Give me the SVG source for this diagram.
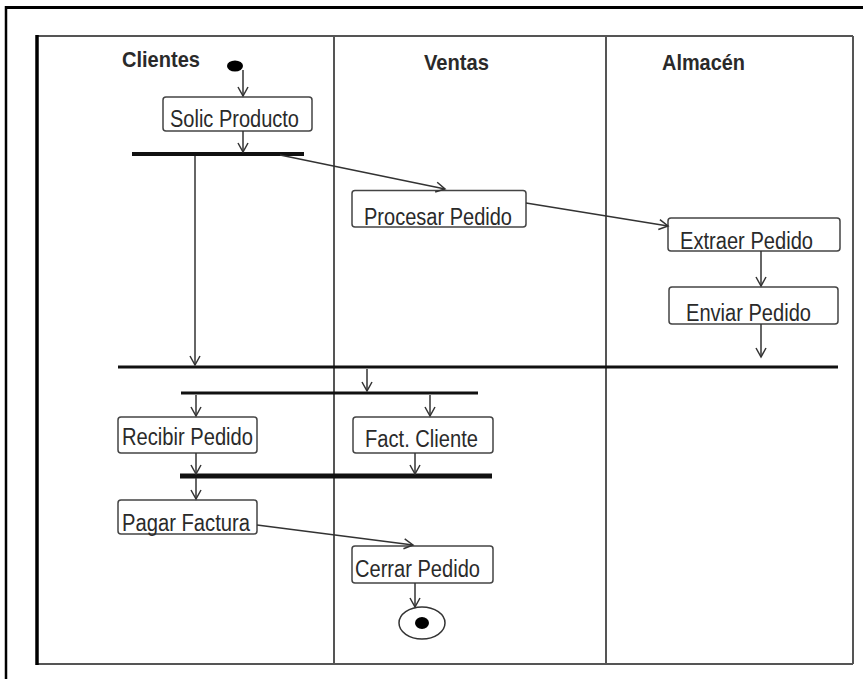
<svg xmlns="http://www.w3.org/2000/svg" width="863" height="679" viewBox="0 0 863 679">
<defs>
<marker id="arr" markerUnits="userSpaceOnUse" orient="auto" refX="10" refY="6" markerWidth="12" markerHeight="12" viewBox="0 0 12 12">
<path d="M1,1 L10,6 L1,11" fill="none" stroke="#333" stroke-width="1.5"/>
</marker>
</defs>
<style>
.lane{stroke:#555;stroke-width:2;fill:none}
.hdr{font-family:"Liberation Sans",Arial,sans-serif;font-weight:bold;font-size:22px;fill:#2a2a2a}
.act rect{fill:#fff;stroke:#444;stroke-width:1.5}
.act text{font-family:"Liberation Sans",Arial,sans-serif;font-size:23px;fill:#2a2a2a}
.bar{stroke:#111;fill:none}
.con line{stroke:#333;stroke-width:1.5;fill:none;marker-end:url(#arr)}
</style>
<rect width="863" height="679" fill="#fff"/>
<line x1="6" y1="7.5" x2="863" y2="7.5" stroke="#000" stroke-width="3"/>
<line x1="6" y1="6" x2="6" y2="679" stroke="#000" stroke-width="2.5"/>
<g id="lanes">
<line class="lane" x1="37" y1="36" x2="853" y2="36"/>
<line class="lane" x1="37" y1="664" x2="853" y2="664"/>
<line x1="37" y1="35" x2="37" y2="665" stroke="#000" stroke-width="3.5"/>
<line class="lane" x1="334" y1="36" x2="334" y2="664"/>
<line class="lane" x1="606" y1="36" x2="606" y2="664"/>
<line class="lane" x1="853" y1="36" x2="853" y2="664"/>
<text class="hdr" x="122" y="67" textLength="78" lengthAdjust="spacingAndGlyphs">Clientes</text>
<text class="hdr" x="424" y="70" textLength="65" lengthAdjust="spacingAndGlyphs">Ventas</text>
<text class="hdr" x="662" y="70" textLength="83" lengthAdjust="spacingAndGlyphs">Almacén</text>
</g>
<g id="start"><ellipse cx="235" cy="66" rx="8" ry="5.5" fill="#000"/></g>
<g id="solic" class="act"><rect x="163" y="97" width="149" height="34" rx="3"/><text x="170" y="127" textLength="129" lengthAdjust="spacingAndGlyphs">Solic Producto</text></g>
<g id="procesar" class="act"><rect x="352" y="190.5" width="174" height="36.5" rx="3"/><text x="364" y="225" textLength="148" lengthAdjust="spacingAndGlyphs">Procesar Pedido</text></g>
<g id="extraer" class="act"><rect x="668" y="218" width="172" height="33" rx="3"/><text x="680" y="248.5" textLength="133" lengthAdjust="spacingAndGlyphs">Extraer Pedido</text></g>
<g id="enviar" class="act"><rect x="669" y="287" width="169" height="37" rx="3"/><text x="686" y="320.5" textLength="125" lengthAdjust="spacingAndGlyphs">Enviar Pedido</text></g>
<g id="recibir" class="act"><rect x="118" y="417" width="139" height="36" rx="3"/><text x="122" y="445" textLength="131" lengthAdjust="spacingAndGlyphs">Recibir Pedido</text></g>
<g id="fact" class="act"><rect x="353" y="417" width="140" height="36" rx="3"/><text x="365" y="447" textLength="113" lengthAdjust="spacingAndGlyphs">Fact. Cliente</text></g>
<g id="pagar" class="act"><rect x="118" y="500" width="139" height="34" rx="3"/><text x="122" y="531" textLength="128" lengthAdjust="spacingAndGlyphs">Pagar Factura</text></g>
<g id="cerrar" class="act"><rect x="352" y="546" width="141" height="37" rx="3"/><text x="355" y="577" textLength="125" lengthAdjust="spacingAndGlyphs">Cerrar Pedido</text></g>
<g id="final"><ellipse cx="422" cy="623" rx="23" ry="16" fill="#fff" stroke="#333" stroke-width="1.5"/><ellipse cx="422" cy="623" rx="7" ry="6" fill="#000"/></g>
<g id="fork1"><line class="bar" x1="132" y1="154" x2="304" y2="154" stroke-width="4"/></g>
<g id="join1"><line class="bar" x1="118" y1="367" x2="838" y2="367" stroke-width="3"/></g>
<g id="fork2"><line class="bar" x1="181" y1="393" x2="478" y2="393" stroke-width="3"/></g>
<g id="join2"><line class="bar" x1="180" y1="476" x2="492" y2="476" stroke-width="5"/></g>
<g id="connectors" class="con">
<line x1="243" y1="70" x2="243" y2="96"/>
<line x1="243" y1="131" x2="243" y2="152"/>
<line x1="280" y1="155" x2="445" y2="189"/>
<line x1="526" y1="203" x2="668" y2="226"/>
<line x1="761" y1="251" x2="761" y2="286"/>
<line x1="761" y1="324" x2="761" y2="357"/>
<line x1="195" y1="156" x2="195" y2="365"/>
<line x1="367" y1="369" x2="367" y2="391"/>
<line x1="196" y1="395" x2="196" y2="416"/>
<line x1="430" y1="395" x2="430" y2="416"/>
<line x1="196" y1="453" x2="196" y2="474"/>
<line x1="415" y1="453" x2="415" y2="474"/>
<line x1="196" y1="478" x2="196" y2="499"/>
<line x1="257" y1="525" x2="413" y2="545"/>
<line x1="415" y1="583" x2="415" y2="607"/>
</g>
</svg>
